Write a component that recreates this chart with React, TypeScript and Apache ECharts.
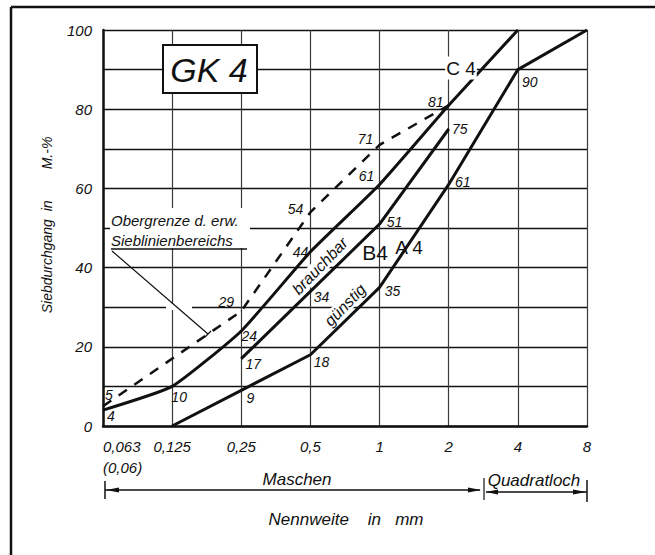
import React, { useEffect, useRef } from "react";
import * as echarts from "echarts";

// Sieve sizes (mm) – x axis categories, evenly spaced (log2 scale)
const sieveLabels = ["0,063\n(0,06)", "0,125", "0,25", "0,5", "1", "2", "4", "8"];

// Grading curves: sieve index -> passing in M.-%
const a4Sieves = [1, 2, 3, 4, 5, 6, 7];
const a4Values = [0, 9, 18, 35, 61, 90, 100];
const a4Labelled = [false, true, true, true, true, true, false];

const b4Sieves = [2, 3, 4, 5];
const b4Values = [17, 34, 51, 75];
const b4Labelled = [true, true, true, true];

const c4Sieves = [0, 1, 2, 3, 4, 5, 6];
const c4Values = [4, 10, 24, 44, 61, 81, 100];
const c4Labelled = [true, true, true, true, true, true, false];

const upperSieves = [0, 2, 3, 4, 5];
const upperValues = [5, 29, 54, 71, 81];
const upperLabelled = [true, true, true, true, false];

// label offsets (styling, px)
const a4Offsets = [[0, 0], [9, 8], [11, 7], [13, 4], [14, -2], [12, 12], [0, 0]];
const b4Offsets = [[12, 5], [11, 6], [15, -2], [11, 0]];
const c4Offsets = [[8, 6], [7, 11], [8, 5], [-10, 0], [-13, -8], [-13, -3], [0, 0]];
const upperOffsets = [[6, -11], [-15, -9], [-15, -3], [-14, -6], [0, 0]];

const FONT = "Liberation Sans";
const INK = "#111";

function buildData(sieves: number[], values: number[], shown: boolean[], offsets: number[][]) {
  return sieves.map((s, i) => ({
    value: [s, values[i]],
    label: shown[i] ? { show: true, offset: offsets[i] } : { show: false },
  }));
}

const labelBase = {
  position: "inside",
  color: INK,
  fontFamily: FONT,
  fontStyle: "italic",
  fontSize: 14,
  formatter: (p: any) => String(p.value[1]),
};

export default function App() {
  const ref = useRef<HTMLDivElement>(null);

  useEffect(() => {
    document.body.style.margin = "0";
    if (!ref.current) return;
    const chart = echarts.init(ref.current, null, { renderer: "svg" });

    const solidLine = { color: INK, width: 3 };
    const txt = (x: number, y: number, text: string, size: number, extra: any = {}) => ({
      type: "text",
      x,
      y,
      z: 20,
      style: {
        text,
        fill: INK,
        font: `${extra.fontStyle ?? "italic"} ${size}px "${FONT}"`,
        align: "center",
        verticalAlign: "middle",
        ...extra,
      },
    });
    const ln = (x1: number, y1: number, x2: number, y2: number, w = 1.5) => ({
      type: "line",
      z: 20,
      shape: { x1, y1, x2, y2 },
      style: { stroke: INK, lineWidth: w },
    });
    const arrow = (pts: number[][]) => ({
      type: "polygon",
      z: 20,
      shape: { points: pts },
      style: { fill: INK },
    });
    const mask = (x: number, y: number, width: number, height: number) => ({
      type: "rect",
      z: 15,
      shape: { x, y, width, height },
      style: { fill: "#fff" },
    });

    chart.setOption({
      animation: false,
      backgroundColor: "#fff",
      grid: { left: 103, right: 68, top: 30, bottom: 129, outerBoundsMode: "none" },
      xAxis: {
        type: "value",
        min: 0,
        max: 7,
        interval: 1,
        axisLine: { show: true, onZero: false, lineStyle: { color: INK, width: 2.5 } },
        axisTick: { show: false },
        splitLine: { show: true, lineStyle: { color: "#3a3a3a", width: 1.2 } },
        axisLabel: {
          margin: 10,
          color: INK,
          fontFamily: FONT,
          fontStyle: "italic",
          fontSize: 15,
          lineHeight: 21,
          alignMinLabel: "left",
          formatter: (v: number) => sieveLabels[Math.round(v)] ?? "",
        },
      },
      yAxis: {
        type: "value",
        min: 0,
        max: 100,
        interval: 10,
        axisLine: { show: true, lineStyle: { color: INK, width: 2.5 } },
        axisTick: { show: false },
        splitLine: { show: true, lineStyle: { color: INK, width: 1.4 } },
        axisLabel: {
          margin: 11,
          color: INK,
          fontFamily: FONT,
          fontStyle: "italic",
          fontSize: 15,
          formatter: (v: number) => (v % 20 === 0 ? String(v) : ""),
        },
      },
      series: [
        {
          name: "A4",
          type: "line",
          symbol: "circle",
          symbolSize: 1,
          itemStyle: { color: INK },
          lineStyle: solidLine,
          label: labelBase,
          data: buildData(a4Sieves, a4Values, a4Labelled, a4Offsets),
        },
        {
          name: "B4",
          type: "line",
          symbol: "circle",
          symbolSize: 1,
          itemStyle: { color: INK },
          lineStyle: solidLine,
          label: labelBase,
          data: buildData(b4Sieves, b4Values, b4Labelled, b4Offsets),
        },
        {
          name: "C4",
          type: "line",
          symbol: "circle",
          symbolSize: 1,
          smooth: 0.15,
          itemStyle: { color: INK },
          lineStyle: solidLine,
          label: labelBase,
          data: buildData(c4Sieves, c4Values, c4Labelled, c4Offsets),
        },
        {
          name: "Obergrenze",
          type: "line",
          symbol: "circle",
          symbolSize: 1,
          itemStyle: { color: INK },
          lineStyle: { color: INK, width: 2.5, type: [10, 9] },
          label: labelBase,
          data: buildData(upperSieves, upperValues, upperLabelled, upperOffsets),
        },
      ],
      graphic: [
        // outer frame
        ln(11, 7, 655, 7, 2.5),
        ln(11, 7, 11, 555, 2.5),
        // GK 4 box
        {
          type: "rect",
          z: 15,
          shape: { x: 163, y: 45, width: 94, height: 48 },
          style: { fill: "#fff", stroke: INK, lineWidth: 2 },
        },
        txt(209, 70, "GK 4", 34),
        // curve names
        txt(461, 68, "C 4", 19, { fontStyle: "normal", backgroundColor: "#fff", padding: [2, 1] }),
        txt(375, 252, "B4", 21, { fontStyle: "normal" }),
        txt(409, 247, "A 4", 19, { fontStyle: "normal" }),
        {
          ...txt(0, 0, "brauchbar", 16, { backgroundColor: "#fff", padding: [0, 2] }),
          x: 320,
          y: 266,
          rotation: (46 * Math.PI) / 180,
        },
        {
          ...txt(0, 0, "günstig", 16, { backgroundColor: "#fff", padding: [0, 2] }),
          x: 345,
          y: 305,
          rotation: (46 * Math.PI) / 180,
        },
        // Obergrenze annotation
        mask(110, 208, 140, 40),
        txt(111, 220, "Obergrenze d. erw.", 15, { align: "left" }),
        txt(111, 240, "Sieblinienbereichs", 15, { align: "left" }),
        ln(111, 249, 247, 249, 1.5),
        mask(166, 304, 26, 6),
        ln(112, 251, 208, 334, 1.2),
        ln(211, 331, 205, 337, 1.2),
        // y axis title
        {
          ...txt(0, 0, "Siebdurchgang  in        M.-%", 14),
          x: 47,
          y: 225,
          rotation: Math.PI / 2,
        },
        // bottom annotations
        txt(297, 479, "Maschen", 17),
        txt(534, 480, "Quadratloch", 17),
        txt(346, 519, "Nennweite    in   mm", 17),
        ln(105, 490, 480, 490, 1.5),
        ln(105, 481, 105, 499, 1.5),
        arrow([[106, 490], [119, 487.5], [119, 492.5]]),
        arrow([[481, 490], [468, 487.5], [468, 492.5]]),
        ln(484, 478, 484, 500, 1.2),
        ln(486, 492, 587, 492, 1.5),
        arrow([[486, 492], [498, 489.5], [498, 494.5]]),
        arrow([[586, 492], [573, 489.5], [573, 494.5]]),
        ln(587, 480, 587, 502, 1.5),
      ],
    });

    return () => chart.dispose();
  }, []);

  return <div ref={ref} style={{ width: 655, height: 555 }} />;
}
